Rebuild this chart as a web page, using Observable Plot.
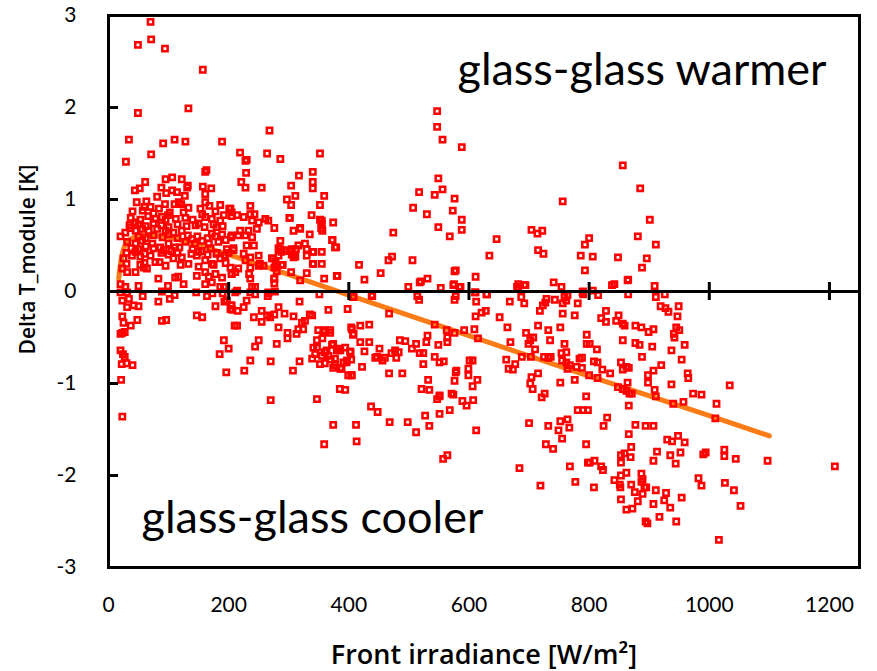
<!DOCTYPE html>
<html><head><meta charset="utf-8">
<script src="https://cdn.jsdelivr.net/npm/d3@7"></script>
<script src="https://cdn.jsdelivr.net/npm/@observablehq/plot@0.6"></script>
<style>body{margin:0;background:#fff}svg{display:block}</style>
</head><body><div id="chart"></div>
<script>
// Scatter: front irradiance [W/m²] vs Delta T_module [K]
const irradiance = [
70,49,71,94,157,49,133,34,91,110,128,189,268,71,29,219,264,286,352,228,230,229,161,163,317,340,340,340,221,228,255,304,311,297,359,352,304,301,319,308,338,352,355,355,374,335,373,379,340,355,286,286,288,301,305,311,316,340,355,380,351,319,304,278,280,288,276,276,
61,52,44,95,106,122,132,131,88,96,114,106,157,161,171,81,127,47,63,94,117,121,161,186,201,40,57,70,84,102,133,153,156,178,192,186,205,
37,53,66,78,89,99,112,128,140,161,172,
20,28,37,45,56,67,81,95,108,122,139,156,172,189,204,
31,45,56,73,86,100,111,128,144,167,183,197,208,
25,39,53,70,78,95,108,122,133,147,161,172,186,194,
23,31,45,59,53,64,147,161,167,178,189,205,
83,116,125,111,99,50,20,28,161,172,186,192,
35,50,62,75,88,100,115,130,145,160,175,190,
38,50,62,75,92,105,118,140,155,170,180,
50,62,75,90,100,115,132,148,165,178,195,
30,45,60,88,100,115,138,150,165,180,200,
30,60,85,120,150,175,195,
45,60,75,95,110,125,150,168,180,
20,31,57,89,102,110,146,164,173,190,
23,34,42,50,31,83,178,193,204,206,
23,25,37,48,89,96,147,156,210,
20,23,27,20,24,27,22,30,40,21,23,
192,200,185,196,
236,243,203,302,355,354,356,372,377,381,359,
319,327,330,330,341,305,312,308,341,330,
283,293,283,274,276,290,280,276,266,265,239,244,234,236,214,203,
205,214,225,236,239,250,261,266,276,247,233,219,205,216,228,239,242,230,208,225,236,250,252,228,216,205,211,236,250,258,272,
211,236,244,266,277,408,
197,205,203,215,225,230,255,283,293,276,264,269,255,242,318,366,398,
308,335,339,327,322,316,313,324,
214,283,298,298,280,250,244,
349,360,369,356,347,347,344,339,360,363,366,372,383,382,377,370,360,377,387,396,404,402,404,408,404,385,394,
236,270,318,307,226,270,347,374,359,
341,358,369,380,394,388,399,374,355,352,374,
547,547,556,588,549,556,543,517,576,507,530,573,588,588,549,568,
474,472,466,417,426,453,506,520,531,499,553,576,578,575,586,
646,634,611,630,611,
704,722,714,715,724,756,
682,682,694,741,754,
793,800,786,793,790,
439,514,578,
856,885,901,881,911,896,888,806,848,865,838,842,909,789,806,815,865,911,926,
518,574,584,680,692,
407,438,517,576,610,612,629,668,687,692,729,727,718,723,743,759,762,764,756,781,790,
467,611,621,628,651,756,776,
405,407,419,434,
543,563,576,592,609,615,531,549,564,564,
386,403,419,434,426,447,451,444,456,460,471,477,483,479,485,494,505,512,518,524,524,529,543,551,558,489,467,422,405,391,397,386,
532,521,534,551,547,551,571,574,578,576,579,589,596,607,599,599,606,601,614,606,568,551,527,534,512,498,468,448,437,412,413,557,564,612,
664,669,662,666,673,677,688,695,699,702,707,710,715,703,715,704,702,706,721,726,732,735,725,732,736,752,754,762,759,755,762,764,768,779,784,788,776,752,796,796,800,795,
700,732,752,764,767,749,755,728,740,684,719,768,777,781,790,798,795,798,
864,
828,820,828,845,849,856,859,877,887,899,907,919,927,932,949,947,945,950,941,942,959,937,954,905,888,884,877,856,813,801,
808,814,788,822,835,814,853,856,862,866,864,848,856,862,867,871,866,898,907,920,898,909,911,937,940,957,964,965,973,987,1012,1010,1034,
830,824,877,894,907,866,870,801,809,820,823,853,859,853,869,862,853,842,851,852,870,887,889,887,892,876,889,895,911,853,881,907,928,925,862,872,935,954,917,894,897,945,1016,808,913,907,930,938,948,959,935,944,952,982,987,990,994,1025,1025,1044,1026,1041,1052,1097,1209
];
const deltaT = [
2.93,2.68,2.74,2.64,2.41,1.94,1.99,1.65,1.61,1.65,1.63,1.63,1.75,1.49,1.41,1.51,1.50,1.44,1.50,1.42,1.43,1.29,1.30,1.32,1.26,1.30,1.19,1.12,1.19,1.13,1.13,1.15,1.04,1.00,1.04,0.94,0.94,0.80,0.69,0.66,0.83,0.78,0.74,0.68,0.75,0.62,0.56,0.48,0.43,0.43,0.55,0.46,0.43,0.44,0.40,0.38,0.50,0.30,0.30,0.17,-0.03,0.12,0.21,0.33,0.29,0.29,0.09,0.14,
1.19,1.12,1.10,1.22,1.24,1.22,1.15,1.13,1.13,1.07,1.08,1.10,1.14,1.06,1.12,1.03,1.04,0.97,0.98,0.95,0.97,0.95,0.97,0.94,0.90,0.87,0.88,0.92,0.90,0.86,0.91,0.90,0.84,0.87,0.83,0.77,0.82,
0.80,0.78,0.82,0.79,0.81,0.83,0.79,0.80,0.78,0.81,0.79,
0.60,0.64,0.69,0.66,0.68,0.66,0.68,0.66,0.64,0.66,0.57,0.55,0.63,0.62,0.59,
0.54,0.52,0.55,0.52,0.48,0.52,0.48,0.54,0.52,0.52,0.54,0.46,0.45,
0.36,0.39,0.38,0.39,0.32,0.28,0.36,0.37,0.30,0.39,0.34,0.30,0.36,0.39,
0.25,0.21,0.21,0.26,0.29,0.25,0.17,0.21,0.16,0.19,0.15,0.19,
0.14,0.16,0.08,0.15,0.06,0.06,0.08,0.05,0.08,0.10,0.05,0.05,
0.72,0.73,0.71,0.74,0.72,0.70,0.73,0.71,0.72,0.70,0.73,0.71,
0.47,0.46,0.49,0.47,0.45,0.44,0.48,0.46,0.44,0.47,0.42,
0.60,0.58,0.61,0.59,0.62,0.58,0.61,0.60,0.58,0.60,0.56,
0.42,0.43,0.41,0.42,0.40,0.42,0.41,0.43,0.40,0.41,0.42,
0.30,0.31,0.32,0.29,0.27,0.29,0.31,
0.75,0.92,0.85,0.78,0.95,0.86,0.74,0.93,0.70,
-0.01,-0.01,-0.05,0.00,-0.08,-0.04,-0.01,-0.05,-0.02,-0.02,
-0.10,-0.08,-0.15,-0.16,-0.17,-0.11,-0.16,-0.11,-0.15,-0.20,
-0.27,-0.34,-0.37,-0.31,-0.32,-0.31,-0.26,-0.28,-0.37,
-0.46,-0.45,-0.44,-0.64,-0.68,-0.71,-0.79,-0.78,-0.80,-0.96,-1.36,
-0.53,-0.62,-0.68,-0.88,
0.93,0.84,0.90,0.80,0.77,0.69,0.66,0.56,0.48,0.17,0.14,
0.68,0.52,0.46,0.39,0.43,0.46,0.46,0.37,0.30,0.20,
0.47,0.45,0.39,0.36,0.26,0.29,0.22,0.14,-0.01,-0.05,0.05,0.05,0.19,0.14,0.01,0.26,
0.86,0.83,0.81,0.84,0.77,0.75,0.79,0.77,0.69,0.68,0.66,0.66,0.61,0.61,0.61,0.59,0.50,0.50,0.47,0.41,0.37,0.39,0.30,0.34,0.25,0.19,0.21,0.26,0.28,0.28,0.36,
-0.01,-0.01,-0.03,-0.02,0.00,-0.06,
-0.10,-0.15,-0.19,-0.21,-0.17,-0.10,-0.21,-0.17,-0.24,-0.25,-0.26,-0.28,-0.33,-0.28,-0.11,-0.20,-0.19,
-0.27,-0.25,-0.26,-0.32,-0.34,-0.41,-0.46,-0.41,
-0.37,-0.39,-0.45,-0.51,-0.57,-0.53,-0.60,
-0.42,-0.42,-0.45,-0.51,-0.53,-0.61,-0.68,-0.73,-0.66,-0.64,-0.70,-0.58,-0.64,-0.62,-0.73,-0.74,-0.78,-0.80,-0.83,-0.77,-0.74,-0.65,-0.39,-0.46,-0.91,-1.06,-1.07,
-0.75,-0.76,-0.76,-0.86,-0.86,-1.18,-1.17,-1.45,-1.66,
-0.61,-0.44,-0.42,-0.64,-0.61,-0.84,-0.91,-0.57,-0.70,-0.79,-0.83,
1.96,1.79,1.65,1.57,1.23,1.11,1.05,1.08,1.01,0.91,0.84,0.88,0.78,0.67,0.70,0.60,
0.64,0.38,0.34,0.29,0.13,0.20,0.34,0.11,0.14,0.05,0.04,0.22,0.23,0.08,0.05,
0.57,0.39,0.16,-0.03,-0.01,
0.67,0.66,0.63,0.45,0.41,0.98,
0.08,0.04,0.07,0.10,0.05,
0.51,0.58,0.39,0.23,0.00,
-0.05,-0.05,-0.05,
1.37,1.12,0.78,0.60,0.51,0.36,0.26,0.38,0.37,0.13,0.07,0.08,0.06,-0.01,0.01,-0.04,-0.03,-0.06,-0.03,
0.10,0.07,0.05,0.05,0.07,
-0.06,-0.04,-0.09,-0.09,-0.01,-0.11,-0.03,-0.11,-0.06,-0.13,-0.08,-0.12,-0.21,-0.15,-0.09,-0.06,-0.10,-0.04,-0.13,-0.13,-0.03,
-0.24,-0.27,-0.23,-0.21,-0.28,-0.24,-0.26,
-0.41,-0.47,-0.37,-0.36,
-0.36,-0.42,-0.45,-0.42,-0.41,-0.51,-0.48,-0.58,-0.55,-0.50,
-0.64,-0.66,-0.55,-0.55,-0.65,-0.71,-0.62,-0.72,-0.75,-0.72,-0.67,-0.64,-0.66,-0.72,-0.53,-0.54,-0.62,-0.57,-0.67,-0.67,-0.79,-0.55,-0.71,-0.77,-0.76,-0.89,-0.89,-0.82,-0.91,-0.77,-0.75,-0.84,
-0.96,-1.06,-1.07,-1.14,-1.17,-1.13,-1.11,-1.12,-0.88,-0.97,-0.86,-1.19,-1.24,-1.18,-0.84,-0.91,-0.75,-0.75,-0.96,-1.03,-1.29,-1.33,-1.35,-1.46,-1.53,-1.42,-1.42,-1.31,-1.25,-1.45,-1.63,-1.82,-1.78,-1.51,
-0.39,-0.55,-0.74,-0.84,-0.85,-0.79,-0.71,-0.45,-0.57,-0.53,-0.50,-0.63,-0.37,-0.71,-0.89,-0.93,-1.00,-1.06,-1.15,-1.11,-0.42,-0.53,-0.71,-0.72,-0.71,-0.39,-0.67,-0.66,-0.57,-0.75,-0.77,-0.84,-0.80,-0.82,-0.73,-0.72,-0.96,-0.99,-0.47,-0.57,-0.91,-1.14,
-1.43,-1.46,-1.41,-1.39,-1.48,-1.51,-1.60,-1.66,-1.71,-1.92,-2.11,-1.90,-2.07,-1.29,-1.29,-1.29,-1.66,-1.86,
0.12,
-0.21,-0.29,-0.33,-0.32,-0.26,-0.35,-0.37,-0.37,-0.39,-0.44,-0.41,-0.16,-0.18,-0.22,-0.16,-0.27,-0.39,-0.42,-0.46,-0.50,-0.58,-0.64,-0.74,-0.60,-0.71,-0.58,-0.56,-0.53,-0.63,-0.57,
-0.76,-0.77,-0.83,-0.85,-0.89,-0.94,-0.77,-0.85,-0.82,-0.83,-0.99,-1.04,-1.06,-1.08,-1.11,-1.11,-1.24,-0.91,-0.86,-0.80,-0.99,-1.07,-1.14,-1.01,-1.22,-1.20,-0.89,-0.94,-1.11,-1.12,-1.22,-1.38,-1.02,
-1.37,-1.46,-1.45,-1.46,-1.46,-1.55,-1.69,-1.86,-1.84,-1.90,-1.94,-1.78,-1.76,-1.86,-1.80,-1.97,-2.00,-2.05,-2.10,-2.13,-2.10,-1.98,-2.04,-2.07,-2.13,-2.18,-2.20,-2.13,-2.16,-2.26,-2.28,-2.31,-2.19,-2.27,-2.37,-2.36,-2.35,-2.24,-2.45,-2.50,-2.52,-2.50,-2.70,-2.13,-1.74,-1.84,-1.61,-1.63,-1.57,-1.64,-1.78,-1.87,-1.75,-2.03,-2.11,-1.77,-1.75,-1.72,-1.79,-1.82,-2.08,-2.16,-2.33,-1.84,-1.90
];
// Orange trend line
const trendX = [17, 20, 25, 30, 40, 55, 75, 100, 150, 200, 400, 600, 800, 1000, 1100];
const trendY = [0.14, 0.30, 0.46, 0.53, 0.58, 0.61, 0.61, 0.59, 0.50, 0.40, -0.04, -0.48, -0.92, -1.35, -1.57];
const xTicks = [0, 200, 400, 600, 800, 1000, 1200];
const yTicks = [-3, -2, -1, 0, 1, 2, 3];
const warmerText = "glass-glass warmer";
const coolerText = "glass-glass cooler";
const xTitle = "Front irradiance [W/m²]";
const yTitle = "Delta T_module [K]";

const n = Math.min(irradiance.length, deltaT.length);
const points = d3.range(n).map(i => ({x: irradiance[i], y: deltaT[i]}));
const trend = trendX.map((x, i) => ({x, y: trendY[i]}));

const W = 877, H = 671, mL = 108, mR = 18, mT = 15, mB = 104;
const plotW = W - mL - mR, plotH = H - mT - mB;
const font = "Lato, 'Open Sans', sans-serif";
const titleFont = "'Open Sans', Lato, sans-serif";

const chart = Plot.plot({
  width: W, height: H,
  marginLeft: mL, marginRight: mR, marginTop: mT, marginBottom: mB,
  style: {fontFamily: font, background: "white", color: "black"},
  x: {domain: [0, 1250]},
  y: {domain: [-3, 3]},
  marks: [
    Plot.line(trend, {x: "x", y: "y", stroke: "#fb7b16", strokeWidth: 5, curve: "monotone-x"}),
    Plot.dot(points, {x: "x", y: "y", symbol: "square", r: 3.0, stroke: "#ff0000", strokeWidth: 2.5, fill: "none"}),
    Plot.ruleY([0], {stroke: "black", strokeWidth: 3}),
    Plot.tickX(xTicks.slice(1), {x: d => d, stroke: "black", strokeWidth: 3, insetTop: plotH / 2 - 9, insetBottom: plotH / 2 - 9}),
    Plot.tickY(yTicks, {y: d => d, stroke: "black", strokeWidth: 3, insetRight: plotW - 10}),
    Plot.frame({stroke: "black", strokeWidth: 3}),
    Plot.axisX(xTicks, {tickSize: 0, tickPadding: 30, fontSize: 21, label: null, tickFormat: d => String(d)}),
    Plot.axisY(yTicks, {tickSize: 0, tickPadding: 32, fontSize: 21, label: null, tickFormat: d => String(d)}),
    Plot.text([warmerText], {text: d => d, frameAnchor: "top-right", textAnchor: "end", lineAnchor: "middle", dx: -33, dy: 55, fontSize: 45, fill: "black"}),
    Plot.text([coolerText], {text: d => d, frameAnchor: "bottom-left", textAnchor: "start", lineAnchor: "middle", dx: 33, dy: -49, fontSize: 45, fill: "black"}),
    Plot.text([xTitle], {text: d => d, frameAnchor: "bottom", textAnchor: "middle", lineAnchor: "middle", dx: 0, dy: 88, fontSize: 27, fontWeight: 600, fontFamily: titleFont, fill: "black"}),
    Plot.text([yTitle], {text: d => d, frameAnchor: "left", textAnchor: "middle", lineAnchor: "middle", rotate: -90, dx: -80, dy: -32, fontSize: 21, fontWeight: 600, fontFamily: titleFont, fill: "black"})
  ]
});
document.getElementById("chart").appendChild(chart);
</script>
</body></html>
